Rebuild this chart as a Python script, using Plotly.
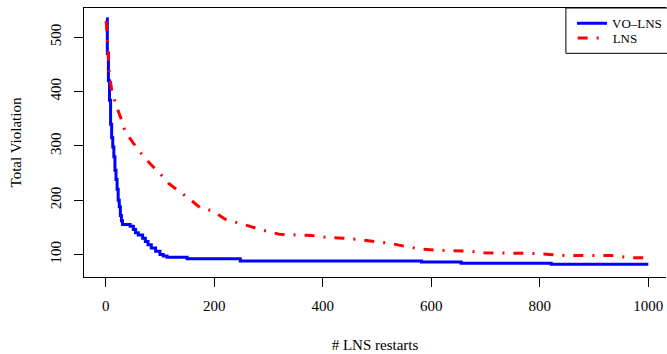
import plotly.graph_objects as go

# VO-LNS (blue, stepwise best total violation)
vo_x = [1, 3, 5, 7, 9, 11, 13, 15, 17, 19, 21, 23, 25, 27, 29, 31, 45, 51, 55, 60, 68, 73, 78,
        84, 92, 100, 106, 113, 150, 248, 582, 655, 821, 1000]
vo_y = [534, 470, 420, 384, 340, 315, 298, 280, 255, 238, 220, 200, 188, 172, 162, 155, 152, 146,
        140, 136, 130, 124, 118, 112, 106, 100, 97, 95, 92, 88, 86, 84, 82, 82]

# LNS (red, dot-dash)
lns_x = [1, 3, 5, 7, 11, 19, 28, 36, 51, 67, 82, 100, 116, 137, 156, 174, 198, 220, 244, 269,
         296, 321, 352, 379, 410, 438, 470, 499, 527, 551, 582, 608, 639, 671, 698, 729, 758,
         787, 818, 848, 876, 907, 938, 965, 1000]
lns_y = [530, 488, 461, 430, 403, 375, 351, 326, 305, 284, 267, 249, 231, 216, 201, 186, 180,
         165, 158, 151, 143, 137, 136, 135, 131, 130, 127, 124, 120, 115, 110, 108, 107, 106,
         103, 103, 103, 102, 100, 98, 98, 98, 98, 94, 94]

x_ticks = [0, 200, 400, 600, 800, 1000]
y_ticks = [100, 200, 300, 400, 500]

FONT = "Liberation Serif"

fig = go.Figure()
fig.add_trace(go.Scatter(x=vo_x, y=vo_y, mode="lines", name="VO\u2013LNS", legend="legend",
                         line=dict(color="#0000ff", width=3, shape="hv")))
fig.add_trace(go.Scatter(x=lns_x, y=lns_y, mode="lines", name="LNS", legend="legend2",
                         line=dict(color="#ff0000", width=3, dash="10px,9px,2px,9px")))

leg_common = dict(xanchor="left", yanchor="top", bgcolor="rgba(0,0,0,0)", borderwidth=0,
                  font=dict(family=FONT, size=13, color="black"), itemwidth=30)

fig.update_layout(
    width=667, height=354,
    margin=dict(l=84, r=0, t=8, b=77),
    paper_bgcolor="white", plot_bgcolor="white",
    font=dict(family=FONT, size=15, color="black"),
    showlegend=True,
    hovermode=False,
    legend=dict(x=0.8382, y=0.999, **leg_common),
    legend2=dict(x=0.8382, y=0.9443, **leg_common),
    xaxis=dict(range=[-40, 1032.6], tickvals=x_ticks, ticktext=[str(v) for v in x_ticks],
               showgrid=False, zeroline=False, showline=True, mirror=True,
               linecolor="black", linewidth=1, ticks="outside", ticklen=9,
               tickcolor="black", tickfont=dict(size=15), ticklabelstandoff=6,
               title=dict(text="# LNS restarts", font=dict(size=15), standoff=26),
               automargin=False),
    yaxis=dict(range=[58.5, 554], tickvals=y_ticks, ticktext=[str(v) for v in y_ticks],
               showgrid=False, zeroline=False, showline=True, mirror=False,
               linecolor="black", linewidth=1, ticks="outside", ticklen=9,
               tickcolor="black", tickangle=-90, tickfont=dict(size=15), ticklabelstandoff=7,
               title=dict(text="Total Violation", font=dict(size=15), standoff=22),
               automargin=False),
    shapes=[dict(type="rect", xref="paper", yref="paper", x0=0.828, x1=1.1,
                 y0=0.8316, y1=1.0, line=dict(color="black", width=1), layer="above")],
)

# remove the default 8px page margin so the figure sits at the page origin
fig.write_html("out.html", config={"displayModeBar": False},
               post_script="document.body.style.margin='0';")
